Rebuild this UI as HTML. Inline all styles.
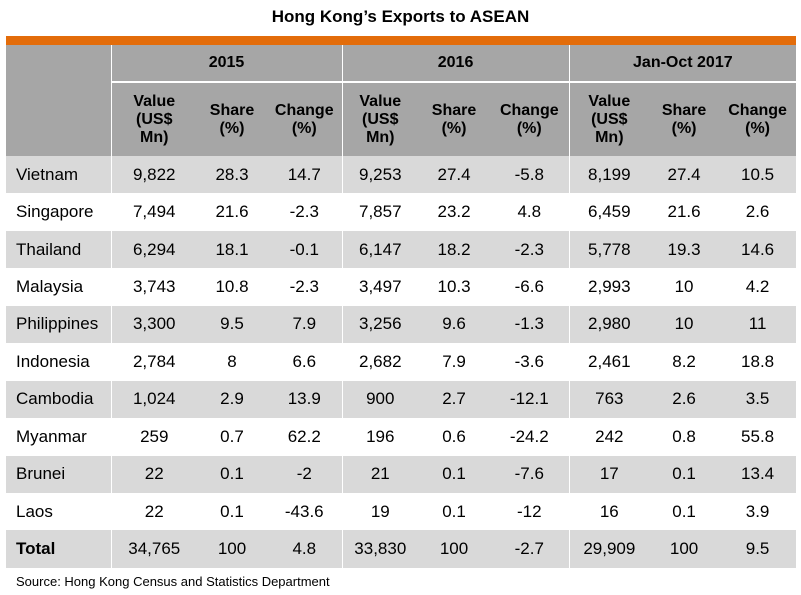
<!DOCTYPE html>
<html><head><meta charset="utf-8"><style>
body{margin:0;width:801px;height:595px;background:#fff;font-family:"Liberation Sans",Arial,sans-serif;position:relative;overflow:hidden}
#title{position:absolute;top:7px;left:0;width:801px;text-align:center;font-weight:bold;font-size:17px;color:#000}
#bar{position:absolute;left:6px;top:36px;width:790px;height:9px;background:#e36c0a}
table{position:absolute;left:6px;top:45px;width:790px;border-collapse:collapse;table-layout:fixed;font-size:17px;color:#000}
td,th{padding:0;text-align:center;border-left:1px solid #fff}
th{background:#a6a6a6;font-weight:bold;font-size:16px;line-height:18px}
tr.g td{background:#d9d9d9}
tr.w td{background:#fff;border-left-color:#fff}
td.c{text-align:left;padding-left:10px}
tr.d td{height:37.45px}
#src{position:absolute;left:16px;top:574px;font-size:13px;color:#000}
</style></head><body>
<div id="title">Hong Kong’s Exports to ASEAN</div>
<div id="bar"></div>
<table>
<colgroup><col style="width:105px"><col style="width:86px"><col style="width:70px"><col style="width:75px"><col style="width:76px"><col style="width:72px"><col style="width:79px"><col style="width:80px"><col style="width:70px"><col style="width:77px"></colgroup>
<tr style="height:37px"><th rowspan="2" style="border-left:none"></th><th colspan="3" style="border-bottom:2px solid #fff">2015</th><th colspan="3" style="border-bottom:2px solid #fff">2016</th><th colspan="3" style="border-bottom:2px solid #fff">Jan-Oct 2017</th></tr>
<tr style="height:74px">
<th>Value<br>(US$<br>Mn)</th><th style="border-left:none">Share<br>(%)</th><th style="border-left:none">Change<br>(%)</th>
<th>Value<br>(US$<br>Mn)</th><th style="border-left:none">Share<br>(%)</th><th style="border-left:none">Change<br>(%)</th>
<th>Value<br>(US$<br>Mn)</th><th style="border-left:none">Share<br>(%)</th><th style="border-left:none">Change<br>(%)</th></tr>
<tbody id="tb"></tbody>
</table>
<div id="src">Source: Hong Kong Census and Statistics Department</div>
<script>
const countries=["Vietnam","Singapore","Thailand","Malaysia","Philippines","Indonesia","Cambodia","Myanmar","Brunei","Laos","Total"];
const v2015=["9,822","7,494","6,294","3,743","3,300","2,784","1,024","259","22","22","34,765"];
const s2015=["28.3","21.6","18.1","10.8","9.5","8","2.9","0.7","0.1","0.1","100"];
const c2015=["14.7","-2.3","-0.1","-2.3","7.9","6.6","13.9","62.2","-2","-43.6","4.8"];
const v2016=["9,253","7,857","6,147","3,497","3,256","2,682","900","196","21","19","33,830"];
const s2016=["27.4","23.2","18.2","10.3","9.6","7.9","2.7","0.6","0.1","0.1","100"];
const c2016=["-5.8","4.8","-2.3","-6.6","-1.3","-3.6","-12.1","-24.2","-7.6","-12","-2.7"];
const v2017=["8,199","6,459","5,778","2,993","2,980","2,461","763","242","17","16","29,909"];
const s2017=["27.4","21.6","19.3","10","10","8.2","2.6","0.8","0.1","0.1","100"];
const c2017=["10.5","2.6","14.6","4.2","11","18.8","3.5","55.8","13.4","3.9","9.5"];
const tb=document.getElementById('tb');
countries.forEach((c,i)=>{
 const tr=document.createElement('tr');
 tr.className='d '+(i%2===0?'g':'w');
 
 
 const vals=[c,v2015[i],s2015[i],c2015[i],v2016[i],s2016[i],c2016[i],v2017[i],s2017[i],c2017[i]];
 vals.forEach((v,j)=>{
  const td=document.createElement('td');
  td.textContent=v;
  
  
  if(j===0){td.className='c';td.style.borderLeft='none';}
  if(j%3!==1&&j!==0)td.style.borderLeft='none';
  if(c==='Total'&&j===0)td.style.fontWeight='bold';
  tr.appendChild(td);
 });
 tb.appendChild(tr);
});
</script>
</body></html>
